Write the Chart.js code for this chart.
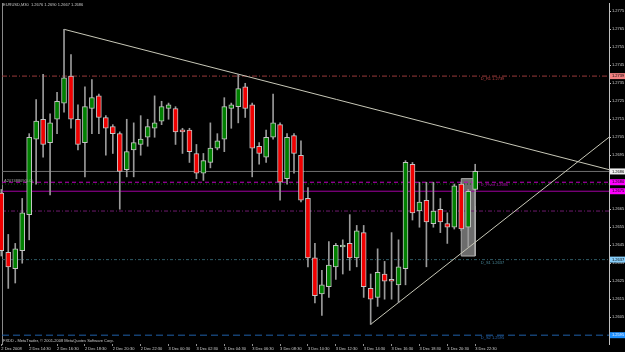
<!DOCTYPE html>
<html lang="en">
<head>
<meta charset="utf-8">
<title>EURUSD,M30</title>
<script src="https://cdn.jsdelivr.net/npm/chart.js"></script>
<style>
    html, body { margin: 0; padding: 0; background: #000; }
    canvas { display: block; background: #000; }
</style>
</head>
<body>
<canvas id="chart" width="625" height="352"></canvas>
<script>
"use strict";

// EURUSD M30, 2-3 Dec 2008, one value per bar
const opens  = [1.2674, 1.2641, 1.2632, 1.2642, 1.2662, 1.2704, 1.2715, 1.2702, 1.2715, 1.2724,
                1.2739, 1.2715, 1.2702, 1.2721, 1.2728, 1.2716, 1.2711, 1.2707, 1.2687, 1.2698,
                1.2701, 1.2705, 1.2710, 1.2714, 1.2721, 1.2721, 1.2709, 1.2709, 1.2696, 1.2685,
                1.2691, 1.2699, 1.2704, 1.2721, 1.2722, 1.2733, 1.2723, 1.2700, 1.2694, 1.2705,
                1.2712, 1.2682, 1.2706, 1.2695, 1.2671, 1.2638, 1.2618, 1.2622, 1.2633, 1.2644,
                1.2646, 1.2638, 1.2652, 1.2621, 1.2616, 1.2629, 1.2626, 1.2623, 1.2632, 1.2690,
                1.2664, 1.2670, 1.2657, 1.2665, 1.2657, 1.2655, 1.2679, 1.2655, 1.2676];
const highs  = [1.2676, 1.2651, 1.2646, 1.2671, 1.2707, 1.2726, 1.2740, 1.2718, 1.2730, 1.2765,
                1.2751, 1.2723, 1.2733, 1.2737, 1.2729, 1.2717, 1.2712, 1.2708, 1.2715, 1.2713,
                1.2717, 1.2715, 1.2728, 1.2725, 1.2724, 1.2722, 1.2710, 1.2710, 1.2701, 1.2696,
                1.2713, 1.2707, 1.2727, 1.2724, 1.2740, 1.2735, 1.2724, 1.2702, 1.2709, 1.2729,
                1.2713, 1.2707, 1.2707, 1.2703, 1.2677, 1.2646, 1.2631, 1.2647, 1.2646, 1.2648,
                1.2662, 1.2656, 1.2656, 1.2629, 1.2643, 1.2636, 1.2652, 1.2648, 1.2692, 1.2691,
                1.2680, 1.2680, 1.2680, 1.2671, 1.2663, 1.2679, 1.2680, 1.2676, 1.2690];
const lows   = [1.2639, 1.2621, 1.2624, 1.2635, 1.2648, 1.2679, 1.2694, 1.2673, 1.2707, 1.2719,
                1.2710, 1.2698, 1.2683, 1.2707, 1.2707, 1.2695, 1.2696, 1.2665, 1.2683, 1.2683,
                1.2695, 1.2700, 1.2705, 1.2712, 1.2715, 1.2701, 1.2696, 1.2691, 1.2682, 1.2681,
                1.2688, 1.2698, 1.2697, 1.2710, 1.2713, 1.2716, 1.2683, 1.2690, 1.2691, 1.2704,
                1.2670, 1.2679, 1.2685, 1.2669, 1.2633, 1.2613, 1.2606, 1.2616, 1.2626, 1.2629,
                1.2631, 1.2633, 1.2616, 1.2601, 1.2611, 1.2615, 1.2615, 1.2613, 1.2623, 1.2659,
                1.2655, 1.2633, 1.2655, 1.2652, 1.2646, 1.2654, 1.2653, 1.2644, 1.2667];
const closes = [1.2642, 1.2633, 1.2643, 1.2663, 1.2705, 1.2714, 1.2701, 1.2713, 1.2725, 1.2738,
                1.2715, 1.2701, 1.2722, 1.2727, 1.2716, 1.2710, 1.2707, 1.2686, 1.2697, 1.2702,
                1.2704, 1.2711, 1.2713, 1.2722, 1.2723, 1.2708, 1.2708, 1.2697, 1.2685, 1.2692,
                1.2699, 1.2703, 1.2722, 1.2723, 1.2732, 1.2721, 1.2699, 1.2696, 1.2705, 1.2713,
                1.2680, 1.2705, 1.2696, 1.2670, 1.2638, 1.2617, 1.2623, 1.2634, 1.2645, 1.2645,
                1.2638, 1.2653, 1.2622, 1.2615, 1.2630, 1.2625, 1.2625, 1.2633, 1.2691, 1.2663,
                1.2669, 1.2658, 1.2664, 1.2658, 1.2655, 1.2678, 1.2654, 1.2675, 1.2686];

// time labels, one every 4 bars (2 hours)
const xTickLabels = ['2 Dec 2008', '2 Dec 14:30', '2 Dec 16:30', '2 Dec 18:30', '2 Dec 20:30',
                     '2 Dec 22:30', '3 Dec 00:30', '3 Dec 02:30', '3 Dec 04:30', '3 Dec 06:30',
                     '3 Dec 08:30', '3 Dec 10:30', '3 Dec 12:30', '3 Dec 14:30', '3 Dec 16:30',
                     '3 Dec 18:30', '3 Dec 20:30', '3 Dec 22:30'];
const barsPerLabel = 4;
const yTicks = [1.2605, 1.2615, 1.2625, 1.2635, 1.2645, 1.2655, 1.2665, 1.2675, 1.2685,
                1.2695, 1.2705, 1.2715, 1.2725, 1.2735, 1.2745, 1.2755, 1.2765, 1.2775];

// horizontal levels (pivot indicator lines, bid line, etc.)
const levelValues = [1.2739, 1.2686, 1.2680, 1.2679, 1.2675, 1.2664, 1.2637, 1.2595];
const levelColors = ['#9a3b3b', '#707070', '#c000c0', '#0b5a0b', '#a000a0', '#6e1a6e', '#2f5a66', '#1f5fa8'];
const levelDashes = [[5, 2, 1, 2], [], [4, 3], [1, 2], [], [4, 2, 1, 2], [3, 2, 1, 2], [7, 4]];

const captionText   = ['D_R1 1.2739', 'D_Pivot 1.2680', 'D_S1 1.2637', 'D_S2 1.2595'];
const captionLevels = [1.2739, 1.2680, 1.2637, 1.2595];
const captionColors = ['#c04848', '#b000b0', '#4a8a9a', '#2a6ab4'];

// price boxes on the right axis
const markerValues = [1.2739, 1.2686, 1.2680, 1.2675, 1.2637, 1.2595];
const markerColors = ['#f08080', '#f0f0f0', '#ff00ff', '#ff00ff', '#87cefa', '#1e90ff'];

// trend lines: [bar index, price]
const downTrend = [[9, 1.2765], [87.2, 1.2687]];
const upTrend   = [[53, 1.2601], [87.2, 1.2705]];

// grey rectangle object
const boxFrom = 66, boxTo = 68, boxTop = 1.2682, boxBottom = 1.2639;

const xMin = 0.1, xMax = 87.2;

Chart.defaults.font.family = '"Liberation Sans", Arial, sans-serif';

const bodyColors = closes.map((c, i) => c >= opens[i] ? '#008000' : '#f00000');

function lineSet(points, color, dash, order) {
    return {
        type: 'line',
        data: points.map(p => ({x: p[0], y: p[1]})),
        borderColor: color,
        borderWidth: 1,
        borderDash: dash,
        pointRadius: 0,
        fill: false,
        order: order,
        xAxisID: 'x',
        yAxisID: 'y'
    };
}

const datasets = [];

// candle bodies and wicks as floating bars
datasets.push({
    type: 'bar',
    data: closes.map((c, i) => ({x: i, y: [opens[i], c]})),
    backgroundColor: bodyColors,
    borderColor: '#c4c4c4',
    borderWidth: 1,
    borderSkipped: false,
    barThickness: 5,
    minBarLength: 2,
    grouped: false,
    clip: false,
    order: 1,
    xAxisID: 'x',
    yAxisID: 'y'
});
datasets.push({
    type: 'bar',
    data: highs.map((h, i) => ({x: i, y: [lows[i], h]})),
    backgroundColor: '#9a9a9a',
    borderWidth: 0,
    barThickness: 1,
    grouped: false,
    clip: false,
    order: 2,
    xAxisID: 'x',
    yAxisID: 'y'
});

// rectangle: filled band plus outline
const rectTop = lineSet([[boxFrom, boxTop], [boxTo, boxTop]], 'rgba(0,0,0,0)', [], 10);
rectTop.fill = '+1';
rectTop.backgroundColor = 'rgba(150,150,150,0.72)';
datasets.push(rectTop);
datasets.push(lineSet([[boxFrom, boxBottom], [boxTo, boxBottom]], 'rgba(0,0,0,0)', [], 10));
datasets.push(lineSet([[boxFrom, boxTop], [boxTo, boxTop], [boxTo, boxBottom], [boxFrom, boxBottom], [boxFrom, boxTop]],
    '#b0b0b0', [], 9));

levelValues.forEach((v, i) => {
    datasets.push(lineSet([[xMin, v], [xMax, v]], levelColors[i], levelDashes[i], 8));
});

datasets.push(lineSet(downTrend, '#c8c8b8', [], 7));
datasets.push(lineSet(upTrend, '#c8c8b8', [], 7));

const mtOverlay = {
    id: 'mtOverlay',
    afterDatasetsDraw(chart) {
        const {ctx, scales: {x, y}} = chart;
        ctx.save();
        ctx.font = '4px "Liberation Sans"';
        ctx.textBaseline = 'middle';
        ctx.textAlign = 'left';
        captionText.forEach((t, i) => {
            ctx.fillStyle = captionColors[i];
            ctx.fillText(t, x.getPixelForValue(68.8), y.getPixelForValue(captionLevels[i]) + 3);
        });
        ctx.fillStyle = '#a0a0a0';
        ctx.fillText('A20748809(0.0)', x.getPixelForValue(0.4), y.getPixelForValue(1.2680) - 1.5);
        ctx.restore();
    },
    afterDraw(chart) {
        const {ctx, chartArea: area, scales: {y}} = chart;
        ctx.save();
        ctx.font = '4px "Liberation Sans"';
        ctx.textBaseline = 'middle';
        ctx.textAlign = 'left';
        markerValues.forEach((v, i) => {
            const py = y.getPixelForValue(v);
            ctx.fillStyle = markerColors[i];
            ctx.fillRect(area.right + 1, py - 3, 16, 6);
            ctx.fillStyle = i === 5 ? '#e8f0ff' : '#000';
            ctx.fillText(v.toFixed(4), area.right + 3, py);
        });
        ctx.fillStyle = '#c8c8c8';
        ctx.fillText('EURUSD,M30  1.2676 1.2690 1.2667 1.2686', 3, 5);
        ctx.fillText('FXDD - MetaTrader, \u00a9 2001-2008 MetaQuotes Software Corp.', 3, 340.5);
        ctx.restore();
    }
};

new Chart(document.getElementById('chart'), {
    type: 'bar',
    data: { datasets: datasets },
    options: {
        responsive: false,
        animation: false,
        devicePixelRatio: 1,
        layout: { padding: { top: 2, left: 0, right: 0, bottom: 0 } },
        plugins: {
            legend: { display: false },
            tooltip: { enabled: false }
        },
        scales: {
            x: {
                type: 'linear',
                min: xMin,
                max: xMax,
                offset: false,
                afterBuildTicks: s => {
                    s.ticks = xTickLabels.map((_, i) => ({value: i * barsPerLabel}));
                },
                afterFit: s => { s.height = 8; },
                ticks: {
                    autoSkip: false,
                    maxRotation: 0,
                    align: 'start',
                    padding: 0,
                    color: '#d0d0d0',
                    font: { size: 4 },
                    callback: v => xTickLabels[Math.round(v / barsPerLabel)]
                },
                grid: { drawOnChartArea: false, offset: false, tickLength: 2, tickColor: '#909090' },
                border: { display: false }
            },
            y: {
                position: 'right',
                min: 1.25901,
                max: 1.27794,
                afterBuildTicks: s => {
                    s.ticks = yTicks.map(v => ({value: v}));
                },
                afterFit: s => { s.width = 16; },
                ticks: {
                    padding: 1,
                    color: '#d0d0d0',
                    font: { size: 4 },
                    callback: v => v.toFixed(4)
                },
                grid: { drawOnChartArea: false, tickLength: 2, tickColor: '#c0c0c0' },
                border: { display: true, color: '#c0c0c0' }
            },
            yl: {
                position: 'left',
                afterFit: s => { s.width = 2; },
                ticks: { display: false },
                grid: { display: false },
                border: { display: true, color: '#8a8a8a' }
            }
        }
    },
    plugins: [mtOverlay]
});
</script>
</body>
</html>
